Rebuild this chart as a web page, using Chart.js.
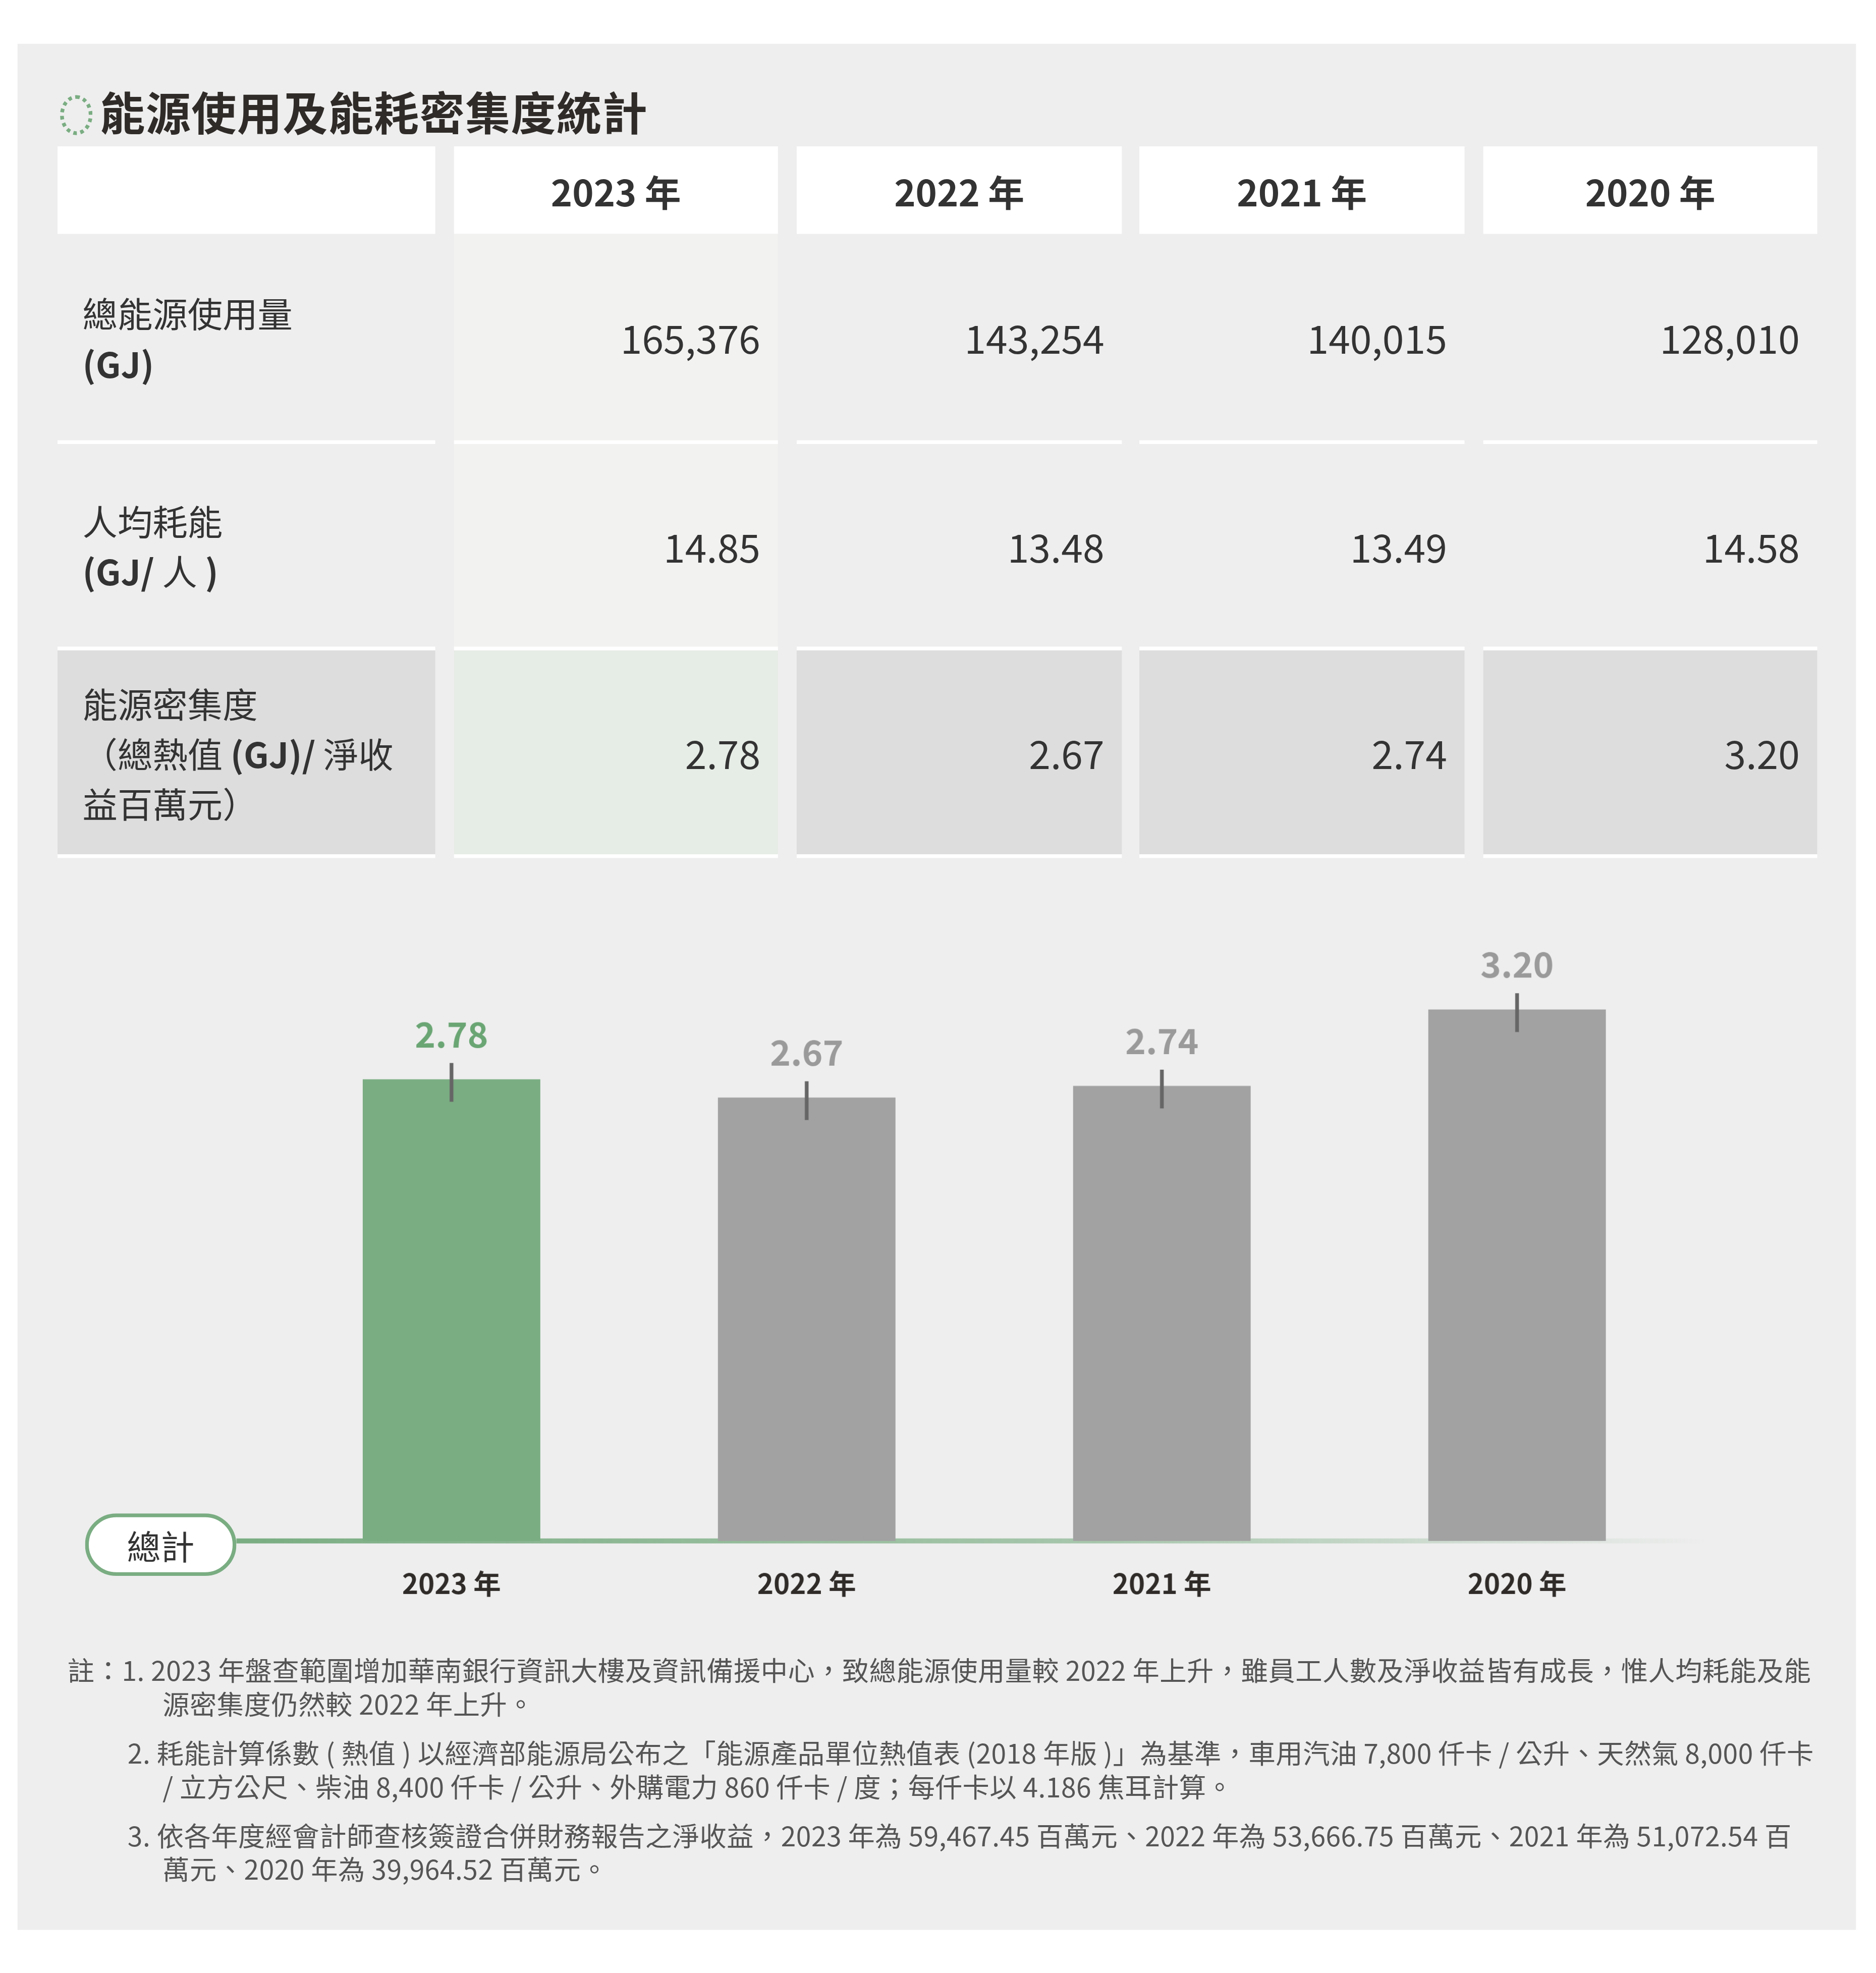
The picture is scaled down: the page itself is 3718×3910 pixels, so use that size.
<!DOCTYPE html>
<html><head><meta charset="utf-8">
<script src="https://cdn.jsdelivr.net/npm/chart.js"></script>
<style>
html,body{margin:0;padding:0;background:#fff;}
body{width:3718px;height:3910px;overflow:hidden;}
#wrap{position:absolute;left:0;top:0;width:1500px;height:1577px;transform:scale(2.47867);transform-origin:0 0;
 font-family:"Noto Sans CJK TC","Noto Sans",sans-serif;color:#333;}
#panel{position:absolute;left:14px;top:35px;width:1470px;height:1508px;background:#eeeeee;}
.abs{position:absolute;box-sizing:border-box;}
#title{left:48px;top:62px;font-size:36px;font-weight:700;letter-spacing:0.5px;color:#2f2b28;white-space:nowrap;}
#title .ring{display:inline-block;width:26px;height:32px;border:3px dotted #7aad82;border-radius:50%;box-sizing:border-box;vertical-align:-4px;margin-right:6px;}
.hd{background:#fff;font-size:29px;font-weight:700;display:flex;align-items:center;justify-content:center;}
.lab{font-size:28px;line-height:40px;padding-left:20px;display:flex;align-items:center;}
.num{font-size:31px;display:flex;align-items:center;justify-content:flex-end;padding-right:14px;}
.sep{background:#fff;height:3px;}
#pill{left:68px;top:1210px;width:121px;height:50px;border:3px solid #7aad82;border-radius:25px;background:#fff;
 font-size:27px;display:flex;align-items:center;justify-content:center;}
.fn{font-size:21.5px;letter-spacing:0.2px;color:#555;line-height:27px;}
#chartbox{left:14px;top:720px;width:1470px;height:580px;}
</style></head>
<body>
<div id="wrap">
<div id="panel"></div>
<div id="title" class="abs"><span class="ring"></span>能源使用及能耗密集度統計</div>
<div id="table"></div>
<div id="chartbox" class="abs"><canvas id="c" width="1470" height="580" style="width:1470px;height:580px"></canvas></div>
<div id="pill" class="abs">總計</div>
<div id="notes"></div>
</div>
<script>
const years = ['2023 年', '2022 年', '2021 年', '2020 年'];
const totalEnergy = ['165,376', '143,254', '140,015', '128,010'];
const perCapita = ['14.85', '13.48', '13.49', '14.58'];
const intensity = [2.78, 2.67, 2.74, 3.20];
const rowLabels = ['總能源使用量<br><b>(GJ)</b>', '人均耗能<br><b>(GJ/</b> 人 <b>)</b>', '能源密集度<br>（總熱值 <b>(GJ)/</b> 淨收<br>益百萬元）'];
const notes = [
  ['註：1. ', '2023 年盤查範圍增加華南銀行資訊大樓及資訊備援中心，致總能源使用量較 2022 年上升，雖員工人數及淨收益皆有成長，惟人均耗能及能源密集度仍然較 2022 年上升。'],
  ['2. ', '耗能計算係數 ( 熱值 ) 以經濟部能源局公布之「能源產品單位熱值表 (2018 年版 )」為基準，車用汽油 7,800 仟卡 / 公升、天然氣 8,000 仟卡 / 立方公尺、柴油 8,400 仟卡 / 公升、外購電力 860 仟卡 / 度；每仟卡以 4.186 焦耳計算。'],
  ['3. ', '依各年度經會計師查核簽證合併財務報告之淨收益，2023 年為 59,467.45 百萬元、2022 年為 53,666.75 百萬元、2021 年為 51,072.54 百萬元、2020 年為 39,964.52 百萬元。']
];

// table
const colX = [[46,348],[363,622],[637,897],[911,1171],[1186,1453]];
const rowY = [[187,352],[355,517],[520,683]];
let html = '';
colX.forEach((c,i) => {
  html += `<div class="abs hd" style="left:${c[0]}px;top:117px;width:${c[1]-c[0]}px;height:70px">${i ? years[i-1] : ''}</div>`;
});
const rows = [totalEnergy, perCapita, intensity.map(v => v.toFixed(2))];
rowY.forEach((r,ri) => {
  colX.forEach((c,ci) => {
    let bg = 'transparent';
    if (ri === 2) bg = ci === 1 ? '#e6ece6' : '#dddddd';
    else if (ci === 1) bg = '#f2f3f1';
    const cls = ci ? 'num' : 'lab';
    const txt = ci ? rows[ri][ci-1] : rowLabels[ri];
    html += `<div class="abs ${cls}" style="left:${c[0]}px;top:${r[0]}px;width:${c[1]-c[0]}px;height:${r[1]-r[0]}px;background:${bg}"><div>${txt}</div></div>`;
    html += `<div class="abs sep" style="left:${c[0]}px;top:${r[1]}px;width:${c[1]-c[0]}px"></div>`;
  });
});
document.getElementById('table').innerHTML = html;

// notes
let nh = '';
const noteTop = [1321, 1387, 1453];
notes.forEach((n,i) => {
  const left = i === 0 ? 54 : 102;
  const ind = i === 0 ? 76 : 28;
  nh += `<div class="abs fn" style="left:${left}px;top:${noteTop[i]}px;width:${1452-left}px;padding-left:${ind}px;text-indent:-${ind}px">${n[0]}${n[1]}</div>`;
});
document.getElementById('notes').innerHTML = nh;

// chart
const green = '#7aad82', grey = '#a2a2a2';
const decor = {
  id: 'decor',
  beforeDatasetsDraw(chart) {
    const ctx = chart.ctx, y0 = chart.scales.y.getPixelForValue(0);
    const g = ctx.createLinearGradient(175, 0, 1350, 0);
    g.addColorStop(0, 'rgba(122,173,130,1)');
    g.addColorStop(0.6, 'rgba(122,173,130,0.6)');
    g.addColorStop(1, 'rgba(122,173,130,0)');
    ctx.save();
    ctx.fillStyle = g;
    ctx.fillRect(175, y0 - 2, 1175, 4);
    ctx.restore();
  },
  afterDatasetsDraw(chart) {
    const ctx = chart.ctx, xs = chart.scales.x, ys = chart.scales.y;
    const y0 = ys.getPixelForValue(0);
    ctx.save();
    ctx.textAlign = 'center';
    ctx.textBaseline = 'middle';
    intensity.forEach((v,i) => {
      const x = xs.getPixelForValue(i), y = ys.getPixelForValue(v);
      ctx.strokeStyle = '#666';
      ctx.lineWidth = 3;
      ctx.beginPath(); ctx.moveTo(x, y - 13); ctx.lineTo(x, y + 18); ctx.stroke();
      ctx.fillStyle = i === 0 ? '#6aa574' : '#9a9a9a';
      ctx.font = 'bold 28px "Noto Sans CJK TC"';
      ctx.fillText(v.toFixed(2), x, y - 36);
      ctx.fillStyle = '#2f2b28';
      ctx.font = 'bold 22px "Noto Sans CJK TC"';
      ctx.fillText(years[i], x, y0 + 34);
    });
    ctx.restore();
  }
};
new Chart(document.getElementById('c'), {
  type: 'bar',
  data: { labels: years, datasets: [{
    data: intensity,
    backgroundColor: intensity.map((v,i) => i === 0 ? green : grey),
    barPercentage: 0.5, categoryPercentage: 1
  }]},
  options: {
    responsive: false, animation: false, devicePixelRatio: 2.5,
    layout: { padding: { left: 205, right: 129, top: 34, bottom: 68 } },
    scales: {
      x: { display: false },
      y: { display: false, min: 0, max: 3.6 }
    },
    plugins: { legend: { display: false }, tooltip: { enabled: false } }
  },
  plugins: [decor]
});
</script>
</body></html>
